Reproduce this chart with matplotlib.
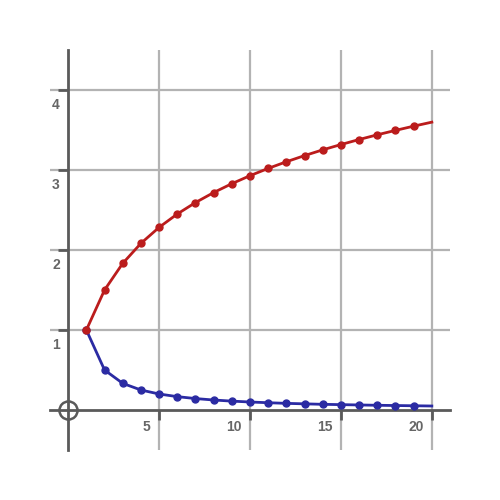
import matplotlib
matplotlib.use("Agg")
import matplotlib.pyplot as plt
import matplotlib.transforms as mtransforms

# values (n = 1..20)
n_vals = [1, 2, 3, 4, 5, 6, 7, 8, 9, 10, 11, 12, 13, 14, 15, 16, 17, 18, 19, 20]
red_vals = [1.0, 1.5, 1.833, 2.083, 2.283, 2.45, 2.593, 2.718, 2.829, 2.929,
            3.02, 3.103, 3.18, 3.252, 3.318, 3.381, 3.44, 3.495, 3.548, 3.598]
blue_vals = [1.0, 0.5, 0.333, 0.25, 0.2, 0.167, 0.143, 0.125, 0.111, 0.1,
             0.091, 0.083, 0.077, 0.071, 0.067, 0.063, 0.059, 0.056, 0.053, 0.05]
x_ticks = [5, 10, 15, 20]
y_ticks = [1, 2, 3, 4]

fig = plt.figure(figsize=(5, 5), dpi=100)
ax = fig.add_axes([0.1, 0.1, 0.8, 0.8])
ax.set_xlim(-1, 21)
ax.set_ylim(-0.5, 4.5)

# grid
ax.set_xticks(x_ticks)
ax.set_yticks(y_ticks)
ax.grid(True, color='#b3b3b3', lw=1.6, zorder=0)
ax.set_axisbelow(True)

# axes through origin
for s in ['top', 'right']:
    ax.spines[s].set_visible(False)
ax.spines['left'].set_position(('data', 0))
ax.spines['bottom'].set_position(('data', 0))
for s in ['left', 'bottom']:
    ax.spines[s].set_color('#5a5a5a')
    ax.spines[s].set_linewidth(2)
    ax.spines[s].set_zorder(1)
ax.tick_params(direction='out', length=7, width=2, color='#5a5a5a',
               labelbottom=False, labelleft=False)

# tick labels
lab = dict(color='#666666', fontsize=10, fontweight='bold', family='Liberation Sans')
for v in x_ticks:
    off = mtransforms.offset_copy(ax.transData, fig=fig, x=-6, y=-7, units='points')
    ax.text(v, 0, str(v), ha='right', va='top', transform=off, **lab)
for v in y_ticks:
    off = mtransforms.offset_copy(ax.transData, fig=fig, x=-6, y=-6, units='points')
    ax.text(0, v, str(v), ha='right', va='top', transform=off, **lab)

# origin circle
ax.plot(0, 0, marker='o', ms=13, mfc='none', mec='#5a5a5a', mew=1.8, zorder=3,
        clip_on=False)

# series
ax.plot(n_vals, blue_vals, color='#2b2ba3', lw=2, marker='o', ms=5,
        markevery=list(range(19)), zorder=4)
ax.plot(n_vals, red_vals, color='#bb1c1c', lw=2, marker='o', ms=5,
        markevery=list(range(19)), zorder=5)

fig.savefig('out.png', dpi=100)
